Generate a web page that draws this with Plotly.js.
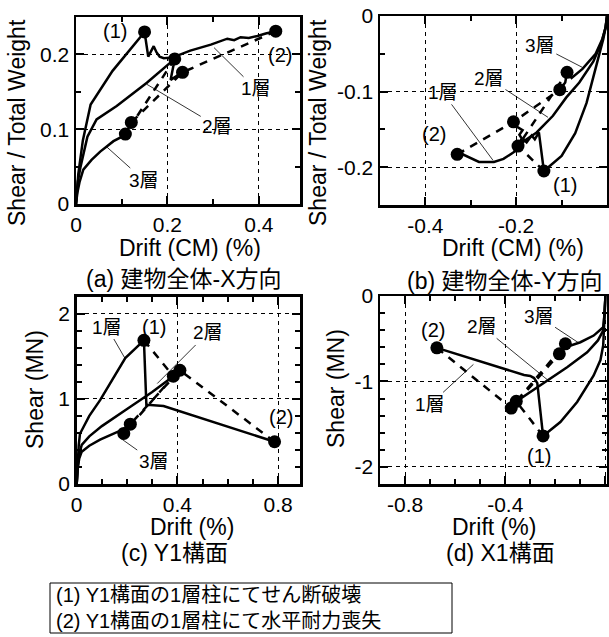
<!DOCTYPE html>
<html><head><meta charset="utf-8">
<script src="https://cdn.plot.ly/plotly-3.0.1.min.js"></script>
<style>html,body{margin:0;padding:0;background:#fff}#chart{width:609px;height:637px}</style>
</head><body><div id="chart"></div>
<script>
// ---- Panel (a): whole building, X direction (Shear / Total Weight vs Drift (CM) %) ----
const aS1x = [0, 0.005, 0.015, 0.032, 0.08, 0.150, 0.158, 0.170, 0.176, 0.183, 0.192, 0.201, 0.212, 0.25, 0.295, 0.331, 0.346, 0.36, 0.378, 0.397, 0.415, 0.437];
const aS1y = [0, 0.04, 0.085, 0.133, 0.178, 0.230, 0.197, 0.211, 0.203, 0.197, 0.195, 0.195, 0.196, 0.205, 0.213, 0.221, 0.219, 0.223, 0.222, 0.2246, 0.228, 0.231];
const aS2x = [0, 0.004, 0.01, 0.025, 0.045, 0.089, 0.155, 0.216, 0.207, 0.233];
const aS2y = [0, 0.03, 0.05, 0.09, 0.113, 0.131, 0.162, 0.194, 0.166, 0.176];
const aS3x = [0, 0.003, 0.008, 0.016, 0.034, 0.053, 0.082, 0.104, 0.108, 0.121];
const aS3y = [0, 0.015, 0.03, 0.046, 0.059, 0.070, 0.084, 0.091, 0.0935, 0.109];
const aDotX = [0.150, 0.437, 0.216, 0.233, 0.108, 0.121];   // 1層(1),(2), 2層(1),(2), 3層(1),(2)
const aDotY = [0.230, 0.231, 0.194, 0.176, 0.0935, 0.109];
const aDash1x = [0.216, 0.108], aDash1y = [0.194, 0.0935];
const aDash2x = [0.437, 0.233, 0.121], aDash2y = [0.231, 0.176, 0.109];

// ---- Panel (b): whole building, Y direction ----
const bS1x = [0, -0.003, -0.008, -0.017, -0.03, -0.045, -0.07, -0.1, -0.139, -0.150, -0.159, -0.166, -0.177, -0.184, -0.191, -0.2, -0.228, -0.249, -0.282, -0.303, -0.318, -0.330];
const bS1y = [0, -0.015, -0.03, -0.05, -0.08, -0.115, -0.155, -0.185, -0.205, -0.154, -0.163, -0.158, -0.167, -0.163, -0.176, -0.178, -0.189, -0.193, -0.193, -0.187, -0.183, -0.183];
const bS2x = [0, -0.003, -0.012, -0.03, -0.061, -0.09, -0.119, -0.155, -0.177, -0.196, -0.188, -0.193, -0.186, -0.2, -0.206];
const bS2y = [0, -0.015, -0.035, -0.06, -0.088, -0.108, -0.132, -0.154, -0.163, -0.172, -0.162, -0.157, -0.151, -0.146, -0.140];
const bS3x = [0, -0.003, -0.01, -0.025, -0.054, -0.078, -0.088, -0.092, -0.104];
const bS3y = [0, -0.015, -0.03, -0.05, -0.070, -0.082, -0.0745, -0.088, -0.0975];
const bDotX = [-0.139, -0.330, -0.196, -0.206, -0.088, -0.104];
const bDotY = [-0.205, -0.183, -0.172, -0.140, -0.0745, -0.0975];
const bDash1x = [-0.139, -0.196, -0.088], bDash1y = [-0.205, -0.172, -0.0745];
const bDash2x = [-0.330, -0.206, -0.104], bDash2y = [-0.183, -0.140, -0.0975];

// ---- Panel (c): Y1 frame (Shear MN vs Drift %) ----
const cS1x = [0, 0.003, 0.008, 0.013, 0.05, 0.093, 0.193, 0.267, 0.277, 0.28, 0.345, 0.786];
const cS1y = [0, 0.2, 0.45, 0.59, 0.80, 0.985, 1.48, 1.688, 0.915, 0.93, 0.915, 0.496];
const cS2x = [0, 0.004, 0.01, 0.02, 0.05, 0.1, 0.2, 0.3, 0.384, 0.41];
const cS2y = [0, 0.2, 0.35, 0.46, 0.56, 0.68, 0.88, 1.08, 1.266, 1.336];
const cS3x = [0, 0.004, 0.01, 0.02, 0.05, 0.093, 0.16, 0.187, 0.213];
const cS3y = [0, 0.18, 0.3, 0.38, 0.45, 0.52, 0.61, 0.64, 0.703];
const cDotX = [0.267, 0.786, 0.384, 0.41, 0.187, 0.213];
const cDotY = [1.688, 0.496, 1.266, 1.336, 0.594, 0.703];
const cDash1x = [0.267, 0.384, 0.187], cDash1y = [1.688, 1.266, 0.594];
const cDash2x = [0.786, 0.41, 0.213], cDash2y = [0.496, 1.336, 0.703];

// ---- Panel (d): X1 frame ----
const dS1x = [0, -0.003, -0.006, -0.009, -0.02, -0.047, -0.113, -0.18, -0.249, -0.262, -0.272, -0.285, -0.3, -0.325, -0.673];
const dS1y = [0, -0.2, -0.4, -0.58, -0.75, -0.93, -1.24, -1.475, -1.638, -1.3, -1.02, -0.96, -0.935, -0.925, -0.607];
const dS2x = [0, -0.003, -0.008, -0.03, -0.073, -0.153, -0.233, -0.313, -0.356, -0.376];
const dS2y = [0, -0.2, -0.4, -0.52, -0.658, -0.833, -0.988, -1.143, -1.233, -1.311];
const dS3x = [0, -0.003, -0.009, -0.047, -0.1, -0.16, -0.184];
const dS3y = [0, -0.2, -0.366, -0.463, -0.541, -0.6, -0.677];
const dDotX = [-0.249, -0.673, -0.356, -0.376, -0.16, -0.184];
const dDotY = [-1.638, -0.607, -1.233, -1.311, -0.56, -0.677];
const dDash1x = [-0.249, -0.356, -0.16], dDash1y = [-1.638, -1.233, -0.56];
const dDash2x = [-0.673, -0.376, -0.184], dDash2y = [-0.607, -1.311, -0.677];

// ---- tick labels ----
const aXtv = [0, 0.2, 0.4], aXtt = ['0', '0.2', '0.4'];
const aYtv = [0, 0.1, 0.2], aYtt = ['0', '0.1', '0.2'];
const bXtv = [-0.4, -0.2, 0], bXtt = ['-0.4', '-0.2', '0'];
const bYtv = [-0.2, -0.1, 0], bYtt = ['-0.2', '-0.1', '0'];
const cXtv = [0, 0.4, 0.8], cXtt = ['0', '0.4', '0.8'];
const cYtv = [0, 1, 2], cYtt = ['0', '1', '2'];
const dXtv = [-0.8, -0.4, 0], dXtt = ['-0.8', '-0.4', '0'];
const dYtv = [-2, -1, 0], dYtt = ['-2', '-1', '0'];

const FONT = 'Arial';
const CJK = "Arial, 'Noto Sans CJK JP'";

const traces = [];
function panel(ax, S, dashes, dots) {
  const xa = 'x' + ax, ya = 'y' + ax;
  S.forEach(s => traces.push({x: s[0], y: s[1], xaxis: xa, yaxis: ya, mode: 'lines',
    line: {color: 'black', width: 2.5}, hoverinfo: 'skip', showlegend: false}));
  dashes.forEach(e => traces.push({x: e[0], y: e[1], xaxis: xa, yaxis: ya, mode: 'lines',
    line: {color: 'black', width: 2.5, dash: '8px,7px'}, hoverinfo: 'skip', showlegend: false}));
  traces.push({x: dots[0], y: dots[1], xaxis: xa, yaxis: ya, mode: 'markers',
    marker: {color: 'black', size: 13}, hoverinfo: 'skip', showlegend: false});
}
panel('', [[aS1x, aS1y], [aS2x, aS2y], [aS3x, aS3y]], [[aDash1x, aDash1y], [aDash2x, aDash2y]], [aDotX, aDotY]);
panel('2', [[bS1x, bS1y], [bS2x, bS2y], [bS3x, bS3y]], [[bDash1x, bDash1y], [bDash2x, bDash2y]], [bDotX, bDotY]);
panel('3', [[cS1x, cS1y], [cS2x, cS2y], [cS3x, cS3y]], [[cDash1x, cDash1y], [cDash2x, cDash2y]], [cDotX, cDotY]);
panel('4', [[dS1x, dS1y], [dS2x, dS2y], [dS3x, dS3y]], [[dDash1x, dDash1y], [dDash2x, dDash2y]], [dDotX, dDotY]);
traces.forEach(t => { if (t.xaxis === 'x') { t.xaxis = 'x'; t.yaxis = 'y'; } });

const W = 609, H = 637;
function axis(domain, range, tv, tt, minorDt) {
  return {domain: domain, range: range, tickmode: 'array', tickvals: tv, ticktext: tt,
    showline: true, linewidth: 2.5, linecolor: 'black', mirror: 'allticks',
    ticks: 'inside', ticklen: 8, tickwidth: 2, tickcolor: 'black',
    showgrid: true, gridcolor: 'black', griddash: '4px,4px', gridwidth: 1, zeroline: false,
    tickfont: {family: FONT, size: 21, color: 'black'},
    minor: {tickmode: 'linear', tick0: 0, dtick: minorDt, ticks: 'inside', ticklen: 5, tickwidth: 2, tickcolor: 'black', showgrid: false},
    fixedrange: true};
}
const px = v => v / W, py = v => 1 - v / H;

const layout = {
  width: W, height: H, margin: {l: 0, r: 0, t: 0, b: 0},
  paper_bgcolor: 'white', plot_bgcolor: 'white', showlegend: false,
  font: {family: FONT, color: 'black'},
  xaxis: axis([px(76), px(300)], [0, 0.49], aXtv, aXtt, 0.1),
  yaxis: axis([py(204), py(17)], [0, 0.25], aYtv, aYtt, 0.05),
  xaxis2: axis([px(380), px(607)], [-0.5, 0], bXtv, bXtt, 0.1),
  yaxis2: axis([py(205), py(16)], [-0.25, 0], bYtv, bYtt, 0.05),
  xaxis3: axis([px(76.7), px(300)], [0, 0.887], cXtv, cXtt, 0.1),
  yaxis3: axis([py(484), py(296.7)], [0, 2.2], cYtv, cYtt, 0.2),
  xaxis4: axis([px(380), px(606.7)], [-0.9, 0.005], dXtv, dXtt, 0.1),
  yaxis4: axis([py(484), py(296)], [-2.2, 0], dYtv, dYtt, 0.2),
  annotations: [],
  shapes: []
};
layout.xaxis2.anchor = 'y2'; layout.yaxis2.anchor = 'x2';
layout.xaxis3.anchor = 'y3'; layout.yaxis3.anchor = 'x3';
layout.xaxis4.anchor = 'y4'; layout.yaxis4.anchor = 'x4';

const A = layout.annotations;
function ptext(t, x, y, size, angle, anchor, fam) {
  A.push({text: t, xref: 'paper', yref: 'paper', x: px(x), y: py(y), xanchor: anchor || 'center', yanchor: 'middle',
    showarrow: false, textangle: angle || 0, font: {family: fam || CJK, size: size, color: 'black'}});
}
function dtext(ax, t, x, y, size) {
  A.push({text: t, xref: 'x' + ax, yref: 'y' + ax, x: x, y: y, xanchor: 'center', yanchor: 'middle',
    showarrow: false, font: {family: FONT, size: size || 20, color: 'black'}});
}
function lead(ax, t, tx, ty, hx, hy) {
  A.push({text: t, xref: 'x' + ax, yref: 'y' + ax, axref: 'x' + ax, ayref: 'y' + ax,
    x: hx, y: hy, ax: tx, ay: ty, showarrow: true, arrowhead: 0, arrowwidth: 0.8, arrowcolor: 'black',
    standoff: 0, startstandoff: 0, font: {family: CJK, size: 19, color: 'black'}});
}

// axis titles & captions
ptext('Shear / Total Weight', 17, 123, 23, -90, 'center', FONT);
ptext('Shear / Total Weight', 318, 123, 23, -90, 'center', FONT);
ptext('Shear (MN)', 35, 390, 23, -90, 'center', FONT);
ptext('Shear (MN)', 336, 389, 23, -90, 'center', FONT);
ptext('Drift (CM) (%)', 190, 248, 23, 0, 'center', FONT);
ptext('Drift (CM) (%)', 513, 248, 23, 0, 'center', FONT);
ptext('Drift (%)', 192, 527, 23, 0, 'center', FONT);
ptext('Drift (%)', 494, 527, 23, 0, 'center', FONT);
ptext('(a) 建物全体-X方向', 184, 279, 23);
ptext('(b) 建物全体-Y方向', 505, 281, 23);
ptext('(c) Y1構面', 174, 553, 23);
ptext('(d) X1構面', 500, 553, 23);

// panel labels
dtext('', '(1)', 0.086, 0.231); dtext('', '(2)', 0.447, 0.199);
lead('', '1層', 0.393, 0.154, 0.302, 0.209);
lead('', '2層', 0.309, 0.104, 0.155, 0.160);
lead('', '3層', 0.148, 0.032, 0.066, 0.077);

dtext('2', '(2)', -0.382, -0.156); dtext('2', '(1)', -0.093, -0.224);
lead('2', '3層', -0.148, -0.039, -0.054, -0.068);
lead('2', '2層', -0.260, -0.083, -0.130, -0.134);
lead('2', '1層', -0.362, -0.101, -0.251, -0.191);

dtext('3', '(1)', 0.309, 1.844); dtext('3', '(2)', 0.813, 0.789);
lead('3', '1層', 0.12, 1.844, 0.193, 1.47);
lead('3', '2層', 0.52, 1.774, 0.32, 1.18);
lead('3', '3層', 0.306, 0.261, 0.166, 0.555);

dtext('4', '(2)', -0.687, -0.393); dtext('4', '(1)', -0.267, -1.872);
lead('4', '2層', -0.493, -0.355, -0.233, -0.977);
lead('4', '3層', -0.267, -0.238, -0.107, -0.548);
lead('4', '1層', -0.70, -1.268, -0.527, -0.80);

// note box
layout.shapes.push({type: 'rect', xref: 'paper', yref: 'paper', x0: px(50), x1: px(452), y0: py(633), y1: py(583),
  line: {color: 'black', width: 1}, fillcolor: 'rgba(0,0,0,0)'});
ptext('(1) Y1構面の1層柱にてせん断破壊', 54, 595, 20, 0, 'left');
ptext('(2) Y1構面の1層柱にて水平耐力喪失', 54, 620.5, 20, 0, 'left');

Plotly.newPlot('chart', traces, layout, {staticPlot: true, displayModeBar: false});
</script></body></html>
